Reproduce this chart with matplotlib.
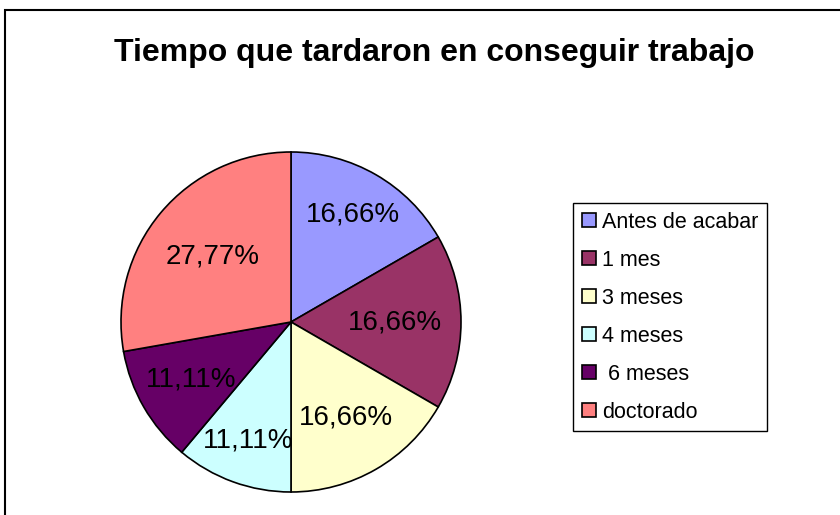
import matplotlib.pyplot as plt
from matplotlib.patches import Rectangle
import numpy as np

plt.rcParams['font.family'] = ['Liberation Sans', 'DejaVu Sans']

categorias = ['Antes de acabar', '1 mes', '3 meses', '4 meses', ' 6 meses', 'doctorado']
valores = [3, 3, 3, 2, 2, 5]
etiquetas = ['16,66%', '16,66%', '16,66%', '11,11%', '11,11%', '27,77%']
colores = ['#9999FF', '#993366', '#FFFFCC', '#CCFFFF', '#660066', '#FF8080']
# distancia radial de cada etiqueta (fraccion del radio), como en el original
dist_etiq = [0.73, 0.61, 0.65, 0.74, 0.68, 0.60]

W, H = 840, 515
fig = plt.figure(figsize=(W / 100, H / 100), dpi=100)

# marco del grafico
fig.add_artist(Rectangle((5 / W, -0.1), 1.0, (H - 10) / H + 0.1,
                         transform=fig.transFigure, fill=False,
                         edgecolor='black', linewidth=1.5))

fig.text(434 / W, 1 - 53 / H, 'Tiempo que tardaron en conseguir trabajo',
         ha='center', va='center', fontsize=23, fontweight='bold')

cx, cy, r = 291, 322, 170
ax = fig.add_axes([(cx - r) / W, (H - cy - r) / H, 2 * r / W, 2 * r / H])
wedges, _ = ax.pie(valores, colors=colores, startangle=90, counterclock=False,
                   wedgeprops=dict(edgecolor='black', linewidth=1.2))
ax.set_xlim(-1, 1)
ax.set_ylim(-1, 1)
ax.set_aspect('equal')
ax.axis('off')

for w, txt, d in zip(wedges, etiquetas, dist_etiq):
    ang = np.deg2rad((w.theta1 + w.theta2) / 2)
    ax.text(d * np.cos(ang), d * np.sin(ang), txt, ha='center', va='center',
            fontsize=20)

leg = fig.legend(wedges, categorias, loc='upper left',
                 bbox_to_anchor=(573 / W, 1 - 203 / H),
                 fontsize=15.5, frameon=True, fancybox=False, framealpha=1,
                 handlelength=0.65, handleheight=0.65, handletextpad=0.3,
                 labelspacing=0.79, borderpad=0.4, borderaxespad=0)
leg.get_frame().set_edgecolor('black')
leg.get_frame().set_linewidth(1.0)

fig.savefig('out.png', dpi=100)
